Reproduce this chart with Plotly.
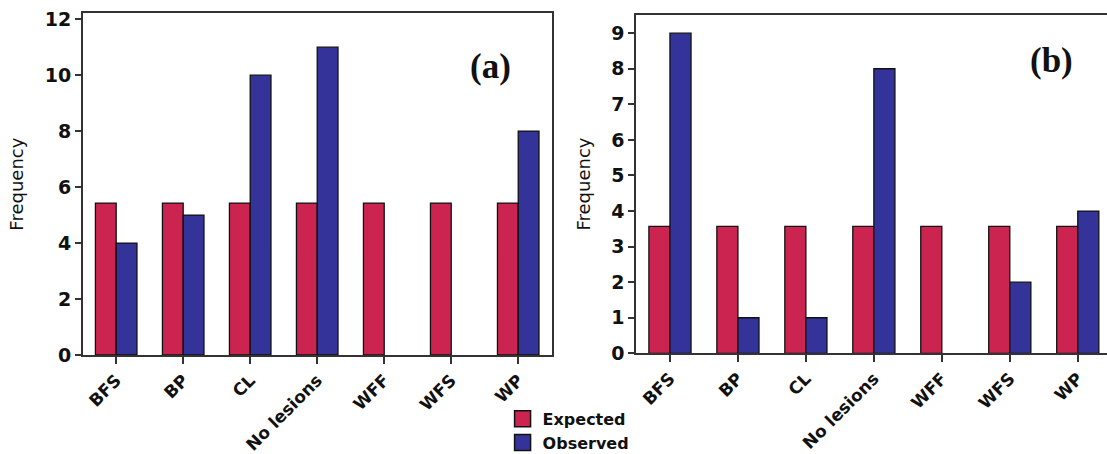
import plotly.graph_objects as go

# Lesion categories shared by both panels
categories = ["BFS", "BP", "CL", "No lesions", "WFF", "WFS", "WP"]

# Panel (a): expected vs observed frequencies
expected_a = [5.43, 5.43, 5.43, 5.43, 5.43, 5.43, 5.43]
observed_a = [4, 5, 10, 11, 0, 0, 8]

# Panel (b): expected vs observed frequencies
expected_b = [3.57, 3.57, 3.57, 3.57, 3.57, 3.57, 3.57]
observed_b = [9, 1, 1, 8, 0, 2, 4]

ticks_a = [0, 2, 4, 6, 8, 10, 12]
ticks_b = [0, 1, 2, 3, 4, 5, 6, 7, 8, 9]

RED = "#CC2450"
BLUE = "#333399"
INK = "#111111"
TICK_FONT = dict(family="DejaVu Sans", size=19, color=INK, weight="bold")
XTICK_FONT = dict(family="DejaVu Sans", size=17, color=INK, weight="bold")
TITLE_FONT = dict(family="DejaVu Sans", size=18, color=INK)


def edge(values):
    # no outline on empty bars so nothing is drawn for a zero count
    return dict(color=INK, width=[0 if v == 0 else 1.3 for v in values])


fig = go.Figure()

for x_ax, y_ax, exp_vals, obs_vals in [
    ("x", "y", expected_a, observed_a),
    ("x2", "y2", expected_b, observed_b),
]:
    fig.add_trace(go.Bar(x=categories, y=exp_vals, name="Expected",
                         marker=dict(color=RED, line=edge(exp_vals)),
                         xaxis=x_ax, yaxis=y_ax, showlegend=False,
                         offsetgroup="exp"))
    fig.add_trace(go.Bar(x=categories, y=obs_vals, name="Observed",
                         marker=dict(color=BLUE, line=edge(obs_vals)),
                         xaxis=x_ax, yaxis=y_ax, showlegend=False,
                         offsetgroup="obs"))

# Legend entries with larger square swatches
for name, color in [("Expected", RED), ("Observed", BLUE)]:
    fig.add_trace(go.Scatter(x=[None], y=[None], mode="markers", name=name,
                             marker=dict(symbol="square", size=16, color=color,
                                         line=dict(color=INK, width=1.5)),
                             xaxis="x", yaxis="y", showlegend=True))

x_common = dict(
    type="category", showline=True, linecolor="#333333", linewidth=1.5,
    ticks="outside", ticklen=7, tickwidth=1.5, tickcolor="#333333",
    tickangle=-45, tickfont=XTICK_FONT, showgrid=False, zeroline=False,
)
y_common = dict(
    showline=True, linecolor="#333333", linewidth=1.5,
    ticks="outside", ticklen=6, tickwidth=1.5, tickcolor="#333333",
    tickfont=TICK_FONT, showgrid=False, zeroline=False,
    title=dict(text="Frequency", font=TITLE_FONT, standoff=16),
)

fig.update_layout(
    width=1107, height=454,
    margin=dict(l=0, r=0, t=0, b=0, autoexpand=False),
    paper_bgcolor="white", plot_bgcolor="white",
    barmode="group", bargap=0.38, bargroupgap=0,
    showlegend=True,
    legend=dict(x=0.454, y=0.115, xanchor="left", yanchor="top",
                font=dict(family="DejaVu Sans", size=16, color=INK,
                          weight="bold"),
                bgcolor="rgba(0,0,0,0)", itemclick=False, tracegroupgap=0),
    xaxis=dict(x_common, domain=[0.0747, 0.4984], range=[-0.5, 6.5],
               anchor="y", mirror=True),
    yaxis=dict(y_common, domain=[0.2181, 0.9707], range=[0, 12.21],
               tickvals=ticks_a, anchor="x", mirror=True),
    xaxis2=dict(x_common, domain=[0.5745, 1.0], range=[-0.5, 6.43],
                anchor="y2", mirror=True),
    yaxis2=dict(y_common, domain=[0.2218, 0.9676], range=[0, 9.52],
                tickvals=ticks_b, anchor="x2", mirror=False),
    annotations=[
        dict(text="<b>(a)</b>", x=490 / 1107, y=1 - 66 / 454,
             xref="paper", yref="paper", showarrow=False,
             xanchor="center", yanchor="middle",
             font=dict(family="Liberation Serif", size=35, color=INK)),
        dict(text="<b>(b)</b>", x=1051 / 1107, y=1 - 60 / 454,
             xref="paper", yref="paper", showarrow=False,
             xanchor="center", yanchor="middle",
             font=dict(family="Liberation Serif", size=35, color=INK)),
    ],
)

fig.write_html("out.html")
